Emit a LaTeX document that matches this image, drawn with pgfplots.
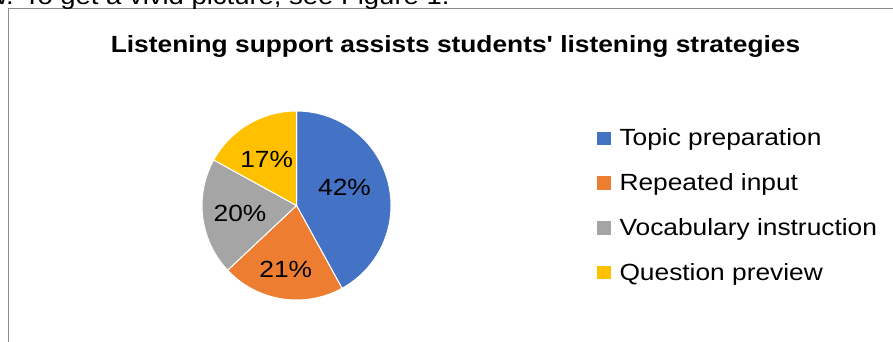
\documentclass[border=0pt]{standalone}
\usepackage{pgfplots}
\pgfplotsset{compat=1.18}
\usepackage{pgfplotstable}
\usepackage{fontspec}
\setmainfont{Liberation Sans}[FakeStretch=1.125, Ligatures=TeXOff]
\definecolor{cBlue}{HTML}{4472C4}
\definecolor{cOrange}{HTML}{ED7D31}
\definecolor{cGray}{HTML}{A5A5A5}
\definecolor{cGold}{HTML}{FFC000}
\definecolor{frameGray}{HTML}{8C8C8C}
\newcommand\chartfont{\fontsize{23.4}{28}\selectfont}
\newcommand\doctext{\fontsize{24.4}{29}\selectfont}
\newcommand\legstrut{\rule[-2.6pt]{0pt}{18.6pt}}

\pgfplotstableread{
label share
Topic 42
Repeated 21
Vocabulary 20
Question 17
}\shares
\pgfplotstablegetelem{0}{share}\of\shares \let\sA\pgfplotsretval
\pgfplotstablegetelem{1}{share}\of\shares \let\sB\pgfplotsretval
\pgfplotstablegetelem{2}{share}\of\shares \let\sC\pgfplotsretval
\pgfplotstablegetelem{3}{share}\of\shares \let\sD\pgfplotsretval
\pgfmathsetmacro\aA{90-3.6*\sA}
\pgfmathsetmacro\aB{\aA-3.6*\sB}
\pgfmathsetmacro\aC{\aB-3.6*\sC}
\pgfmathsetmacro\aD{\aC-3.6*\sD}

\begin{document}
\begin{tikzpicture}
\path[use as bounding box] (0,0) rectangle (893pt,341pt);
\clip (0,0) rectangle (893pt,341pt);
\draw[overlay, frameGray, line width=1pt] (8pt,-2pt) -- (8pt,332pt) -- (895pt,332pt);
\node[overlay, anchor=base west, inner sep=0pt, font=\doctext] at (-12.5pt,336pt) {w. To get a vivid picture, see Figure 1.};
\begin{axis}[
  at={(0,0)}, anchor=south west,
  x=1pt, y=1pt,
  xmin=-296.5, xmax=596.5, ymin=-135.5, ymax=205.5,
  hide axis, clip=false,
  legend image code/.code={\fill[#1,draw=none] (0pt,-6.65pt) rectangle (14pt,6.65pt);},
  legend cell align=left,
  legend style={at={(axis cs:300.5,76.5)}, anchor=north west, draw=none, fill=none,
    inner sep=0pt, outer sep=0pt, font=\chartfont, row sep=26.4pt, column sep=8.5pt,
    nodes={inner sep=0pt}},
]
\addplot[fill=cBlue, draw=white, line width=1pt, data cs=polar, domain=90:\aA, samples=90] (x,94.5) -- (axis cs:0,0) -- cycle;
\addlegendentry{\legstrut Topic preparation}
\addplot[fill=cOrange, draw=white, line width=1pt, data cs=polar, domain=\aA:\aB, samples=50] (x,94.5) -- (axis cs:0,0) -- cycle;
\addlegendentry{\legstrut Repeated input}
\addplot[fill=cGray, draw=white, line width=1pt, data cs=polar, domain=\aB:\aC, samples=50] (x,94.5) -- (axis cs:0,0) -- cycle;
\addlegendentry{\legstrut Vocabulary instruction}
\addplot[fill=cGold, draw=white, line width=1pt, data cs=polar, domain=\aC:\aD, samples=50] (x,94.5) -- (axis cs:0,0) -- cycle;
\addlegendentry{\legstrut Question preview}
\node[font=\chartfont, inner sep=0pt] at (axis cs:48,18.2) {\sA\%};
\node[font=\chartfont, inner sep=0pt] at (axis cs:-10.7,-63.5) {\sB\%};
\node[font=\chartfont, inner sep=0pt] at (axis cs:-56.5,-7.8) {\sC\%};
\node[font=\chartfont, inner sep=0pt] at (axis cs:-29.8,46.5) {\sD\%};
\node[font=\chartfont\bfseries, anchor=base, inner sep=0pt] at (axis cs:159,152.8) {Listening support assists students' listening strategies};
\end{axis}
\end{tikzpicture}
\end{document}
